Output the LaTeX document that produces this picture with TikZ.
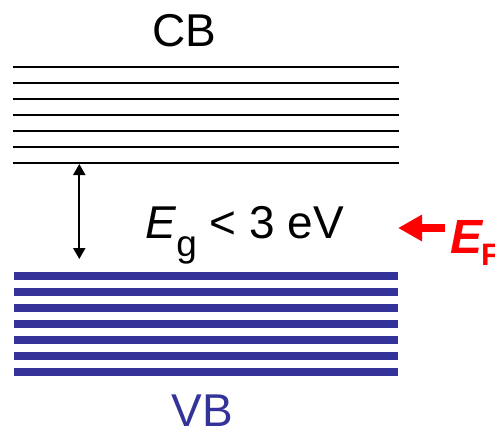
\documentclass[tikz,border=0pt]{standalone}
\usepackage{fontspec}
\setmainfont{Liberation Sans}
\usetikzlibrary{arrows.meta}
\definecolor{vbblue}{RGB}{51,51,153}
\definecolor{efred}{RGB}{255,0,0}
\tikzset{
  cbline/.style={line width=2pt, black},
  vbline/.style={line width=8pt, vbblue},
  big/.style={font=\fontsize{46}{46}\selectfont, inner sep=0pt},
  gaparrow/.style={line width=2pt, {Triangle[length=11pt,width=12pt]}-{Triangle[length=11pt,width=12pt]}},
  efarrow/.style={line width=8pt, efred, -{Triangle[length=24pt,width=25pt]}}
}
\begin{document}
\begin{tikzpicture}[x=1pt,y=-1pt]
\useasboundingbox (0,0) rectangle (495,429);
\clip (0,0) rectangle (495,429);
% conduction band levels
\foreach \i in {0,...,6} {
  \draw[cbline] (13,67.3+16*\i) -- (399,67.3+16*\i);
}
% valence band levels
\foreach \i in {0,...,6} {
  \draw[vbline] (14,275.8+16*\i) -- (398,275.8+16*\i);
}
\node[big, anchor=base] (cb) at (184.3,46.7) {CB};
\node[big, anchor=base, text=vbblue] (vb) at (202.5,426.7) {VB};
% gap arrow
\coordinate (gtop) at (79.3,164);
\coordinate (gbot) at (79.3,259);
\draw[gaparrow] (gtop) -- (gbot);
\node[big, anchor=base west] (eg) at (145,238)
  {\textit{E}\raisebox{-18pt}{\fontsize{37}{37}\selectfont g} {<} 3 eV};
% Fermi level
\coordinate (efstart) at (445,228);
\coordinate (efend) at (398,228);
\draw[efarrow] (efstart) -- (efend);
\node[inner sep=0pt, anchor=base west, text=efred, font=\bfseries\itshape\fontsize{48}{48}\selectfont] (ef) at (450,253) {E};
\node[inner sep=0pt, anchor=base west, text=efred, font=\bfseries\fontsize{31}{31}\selectfont] (eff) at (481,265) {F};
\end{tikzpicture}
\end{document}
